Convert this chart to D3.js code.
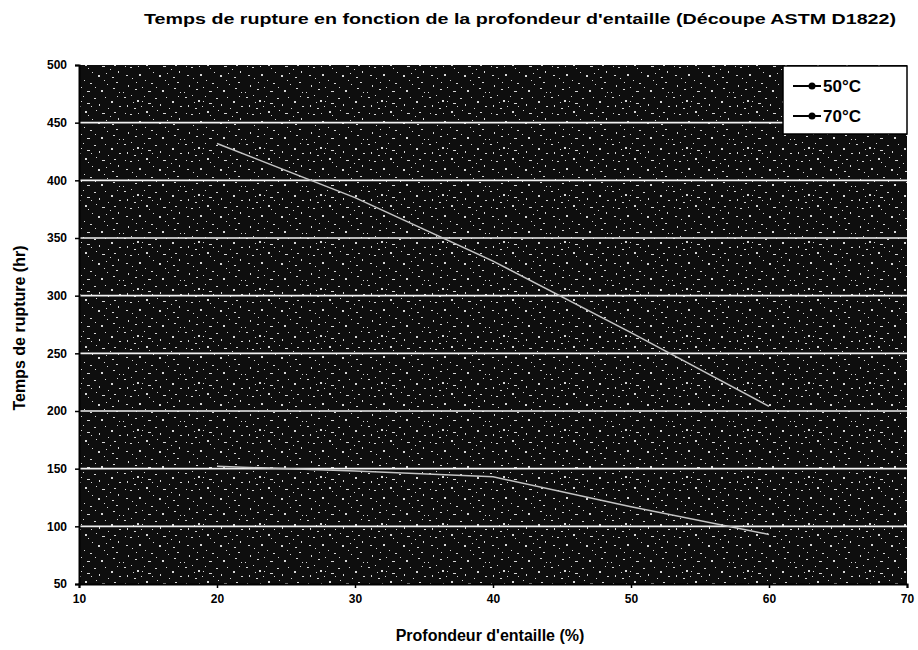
<!DOCTYPE html>
<html>
<head>
<meta charset="utf-8">
<script src="https://cdn.jsdelivr.net/npm/d3@7"></script>
<style>
  html, body { margin: 0; padding: 0; background: #fff; }
  svg { display: block; font-family: Arial, "Liberation Sans", sans-serif; }
</style>
</head>
<body>
<svg id="chart" width="918" height="650"></svg>
<script>
const titleText = "Temps de rupture en fonction de la profondeur d'entaille (Découpe ASTM D1822)";
const xTitle = "Profondeur d'entaille (%)";
const yTitle = "Temps de rupture (hr)";
const depths = [20, 30, 40, 50, 60];
const series50 = [432, 385, 330, 268, 204];
const series70 = [152, 148, 143, 117, 93];
const seriesNames = ["50°C", "70°C"];
const xTicks = [10, 20, 30, 40, 50, 60, 70];
const yTicks = [50, 100, 150, 200, 250, 300, 350, 400, 450, 500];

const svg = d3.select("#chart");
const m = { left: 79, right: 11, top: 65, bottom: 66 };
const W = 918, H = 650;
const x = d3.scaleLinear().domain([10, 70]).range([m.left, W - m.right]);
const y = d3.scaleLinear().domain([50, 500]).range([H - m.bottom, m.top]);

// speckled scan texture (fixed, hand-placed pattern tile)
const defs = svg.append("defs");
const pat = defs.append("pattern").attr("id", "speck").attr("patternUnits", "userSpaceOnUse")
  .attr("width", 61).attr("height", 47);
pat.append("rect").attr("width", 61).attr("height", 47).attr("fill", "#0e0e0e");
const specks = [
  [2,3,2,1],[9,1,1,1],[15,6,2,2],[22,2,1,1],[26,9,3,1],[5,11,1,2],[12,14,2,1],[19,12,1,1],
  [24,17,2,2],[3,19,1,1],[8,20,2,1],[16,19,1,1],[27,21,1,1],[11,8,1,1],[20,7,1,1],
  [33,4,2,1],[38,10,1,2],[44,3,1,1],[50,7,2,2],[56,2,1,1],[58,12,2,1],[35,16,1,1],[41,19,3,1],
  [47,14,1,1],[53,18,2,1],[31,25,1,1],[37,28,2,2],[45,26,1,1],[51,30,2,1],[57,24,1,2],
  [4,28,2,1],[10,31,1,1],[17,27,2,2],[23,33,1,1],[29,36,2,1],[6,38,1,2],[13,42,2,1],[20,40,1,1],
  [26,44,3,1],[34,40,1,1],[40,43,2,2],[46,37,1,1],[52,41,2,1],[58,45,1,1],[43,33,1,1],[1,45,1,1],
  [14,35,1,1],[49,22,1,1],[30,12,1,1],[55,35,2,1]
];
specks.forEach(s => pat.append("rect").attr("x", s[0]).attr("y", s[1]).attr("width", s[2]).attr("height", s[3]).attr("fill", "#d8d8d8"));

svg.append("rect").attr("x", m.left).attr("y", m.top)
  .attr("width", W - m.right - m.left).attr("height", H - m.bottom - m.top)
  .attr("fill", "url(#speck)");

// gridlines
svg.append("g").selectAll("line").data(yTicks.filter(d => d > 50 && d < 500)).join("line")
  .attr("x1", m.left).attr("x2", W - m.right)
  .attr("y1", d => y(d)).attr("y2", d => y(d))
  .attr("stroke", "#f2f2f2").attr("stroke-width", 1.6);

// series lines
const line = d3.line().x((d, i) => x(depths[i])).y(d => y(d));
[series50, series70].forEach(s => {
  svg.append("path").datum(s).attr("d", line)
    .attr("fill", "none").attr("stroke", "#c4c4c4").attr("stroke-width", 1.5);
});

// axes
const xAxis = svg.append("g").attr("transform", `translate(0,${H - m.bottom})`)
  .call(d3.axisBottom(x).tickValues(xTicks).tickSize(4).tickPadding(6));
const yAxis = svg.append("g").attr("transform", `translate(${m.left},0)`)
  .call(d3.axisLeft(y).tickValues(yTicks).tickSize(4).tickPadding(8));
[xAxis, yAxis].forEach(a => {
  a.select(".domain").attr("stroke", "#000").attr("stroke-width", 2);
  a.selectAll(".tick line").attr("stroke", "#000").attr("stroke-width", 1.5);
  a.selectAll(".tick text").attr("fill", "#000").style("font-size", "12px").style("font-weight", "bold")
    .style("font-family", "Arial, 'Liberation Sans', sans-serif");
});

// titles
svg.append("text").attr("x", 520).attr("y", 24).attr("text-anchor", "middle")
  .style("font-size", "15px").style("font-weight", "bold")
  .attr("textLength", 752).attr("lengthAdjust", "spacingAndGlyphs").text(titleText);
svg.append("text").attr("x", 490).attr("y", 641).attr("text-anchor", "middle")
  .style("font-size", "16px").style("font-weight", "bold").text(xTitle);
svg.append("text").attr("transform", "translate(25,328) rotate(-90)").attr("text-anchor", "middle")
  .style("font-size", "16px").style("font-weight", "bold").text(yTitle);

// legend
const lg = svg.append("g").attr("transform", "translate(783,66)");
lg.append("rect").attr("width", 124).attr("height", 68).attr("fill", "#fff").attr("stroke", "#000").attr("stroke-width", 1.5);
seriesNames.forEach((n, i) => {
  const gy = 20 + i * 30;
  lg.append("line").attr("x1", 10).attr("x2", 38).attr("y1", gy).attr("y2", gy).attr("stroke", "#000").attr("stroke-width", 2);
  lg.append("circle").attr("cx", 29).attr("cy", gy).attr("r", 3.5).attr("fill", "#000");
  lg.append("text").attr("x", 40).attr("y", gy + 6).style("font-size", "17px").style("font-weight", "bold").text(n);
});
</script>
</body>
</html>
